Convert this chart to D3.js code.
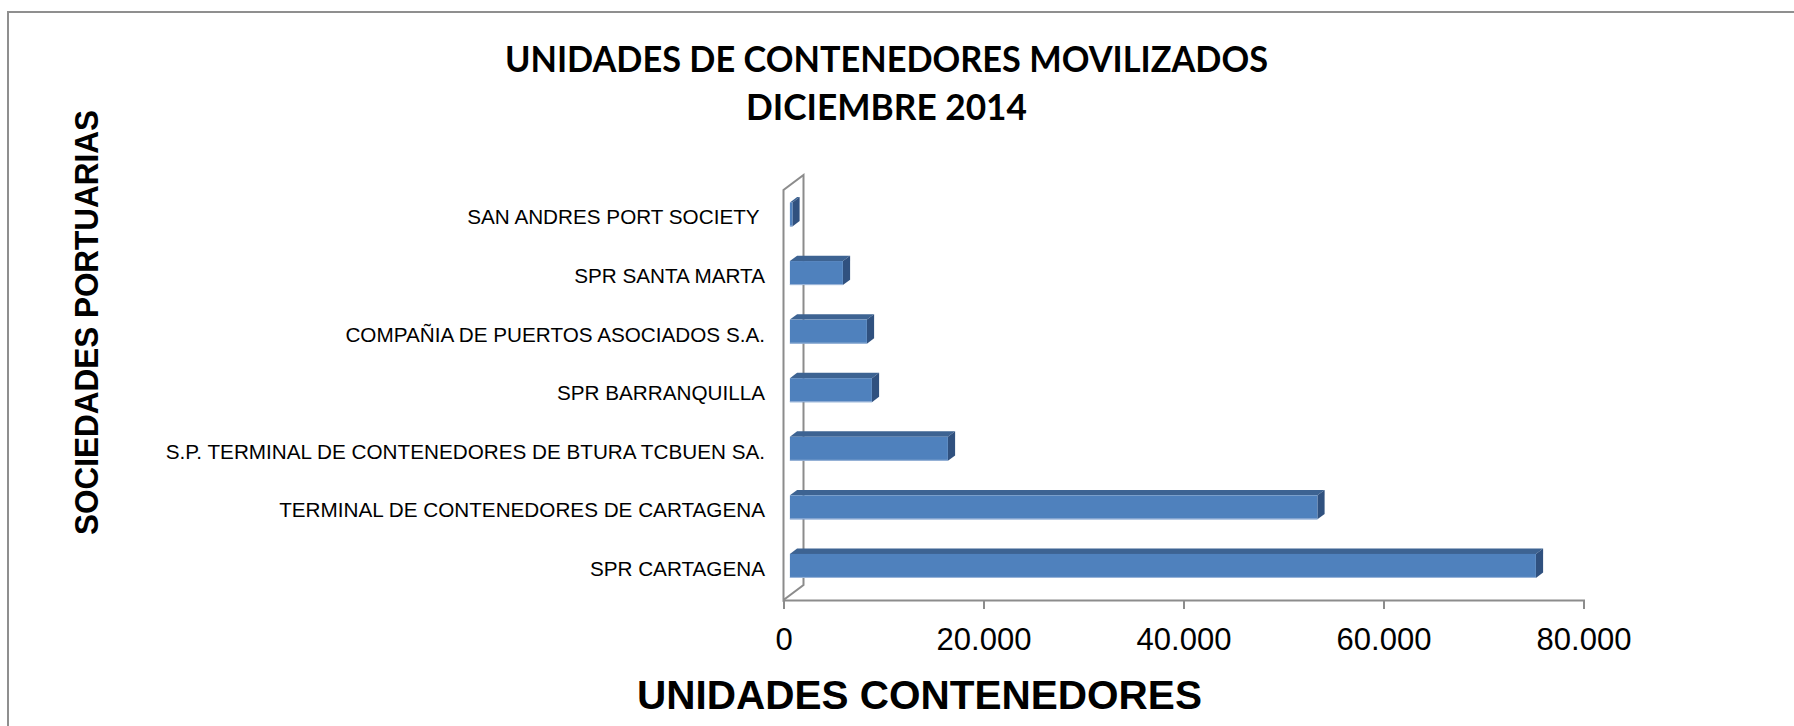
<!DOCTYPE html>
<html>
<head>
<meta charset="utf-8">
<script src="https://cdn.jsdelivr.net/npm/d3@7"></script>
<style>
  html, body { margin: 0; padding: 0; background: #fff; }
  svg { display: block; }
  text { font-family: "Liberation Sans", Arial, sans-serif; }
</style>
</head>
<body>
<script>
// ---- data ----
const categories = [
  "SPR CARTAGENA",
  "TERMINAL DE CONTENEDORES DE CARTAGENA",
  "S.P. TERMINAL DE CONTENEDORES DE BTURA TCBUEN SA.",
  "SPR BARRANQUILLA",
  "COMPAÑIA DE PUERTOS ASOCIADOS S.A.",
  "SPR SANTA MARTA",
  "SAN ANDRES PORT SOCIETY "
];
const values = [74600, 52750, 15800, 8200, 7700, 5300, 250];
const xTicks = [0, 20000, 40000, 60000, 80000];
const titleLines = ["UNIDADES DE CONTENEDORES MOVILIZADOS", "DICIEMBRE 2014"];
const xTitle = "UNIDADES CONTENEDORES";
const yTitle = "SOCIEDADES PORTUARIAS";

// ---- layout ----
const W = 1794, H = 726;
const DX = 20, DY = -15;          // depth vector of the 3D box
const dFront = 0.32, dBack = 0.68; // bar depth span

const svg = d3.select("body").append("svg").attr("width", W).attr("height", H);

// outer chart border (cut at right/bottom)
svg.append("path")
  .attr("d", "M8,726 L8,12 L1794,12")
  .attr("fill", "none").attr("stroke", "#8f8f8f").attr("stroke-width", 2);

const x = d3.scaleLinear().domain([0, 80000]).range([783.5, 1583.5]);
const y = d3.scaleBand().domain(categories).range([600, 190])
  .paddingInner(0.59).paddingOuter(0.295);

const loc = d3.formatLocale({decimal: ",", thousands: ".", grouping: [3], currency: ["$", ""]});
const fmt = loc.format(",d");

// back wall
const wx0 = x(0), wyB = 600, wyT = 190;
svg.append("path")
  .attr("d", `M${wx0},${wyB} L${wx0},${wyT} L${wx0 + DX},${wyT + DY} L${wx0 + DX},${wyB + DY} Z`)
  .attr("fill", "none").attr("stroke", "#8c8c8c").attr("stroke-width", 2);

// x axis
const xAxis = d3.axisBottom(x).tickValues(xTicks).tickSize(9).tickFormat(fmt);
const gx = svg.append("g").attr("transform", "translate(0,600)").call(xAxis);
gx.select(".domain").attr("stroke", "#8c8c8c").attr("stroke-width", 2);
gx.selectAll(".tick line").attr("stroke", "#8c8c8c").attr("stroke-width", 2);
gx.selectAll(".tick text")
  .attr("y", 50).attr("dy", 0)
  .attr("fill", "#000")
  .style("font-family", "'Liberation Sans', Arial, sans-serif")
  .style("font-size", "31px");

// bars
const fx = DX * dFront, fy = DY * dFront;
const ddx = DX * (dBack - dFront), ddy = DY * (dBack - dFront);
const bw = y.bandwidth();
const bars = svg.append("g");
categories.forEach((c, i) => {
  const v = values[i];
  const x0 = x(0) + fx, x1 = x(v) + fx;
  const yt = y(c) + fy, yb = yt + bw;
  const g = bars.append("g");
  // top face
  g.append("path")
    .attr("d", `M${x0},${yt} L${x0 + ddx},${yt + ddy} L${x1 + ddx},${yt + ddy} L${x1},${yt} Z`)
    .attr("fill", "#3d6392");
  // right face
  g.append("path")
    .attr("d", `M${x1},${yt} L${x1 + ddx},${yt + ddy} L${x1 + ddx},${yb + ddy} L${x1},${yb} Z`)
    .attr("fill", "#30517f");
  // front face
  g.append("rect")
    .attr("x", x0).attr("y", yt).attr("width", x1 - x0).attr("height", bw)
    .attr("fill", "#4f81bd");
  // light bottom edge
  g.append("line")
    .attr("x1", x0).attr("x2", x1).attr("y1", yb - 0.5).attr("y2", yb - 0.5)
    .attr("stroke", "#9fb8da").attr("stroke-width", 1);
  // category label
  svg.append("text")
    .attr("x", 765).attr("y", yt + bw / 2 + 10)
    .attr("text-anchor", "end")
    .style("font-size", "20.7px")
    .style("white-space", "pre")
    .attr("fill", "#000")
    .text(c);
});

// titles
const tFont = "Lato, 'Open Sans', sans-serif";
svg.append("text").attr("x", 886.5).attr("y", 72).attr("text-anchor", "middle")
  .style("font-family", tFont).style("font-weight", "bold").style("font-size", "37px")
  .attr("textLength", 763).attr("lengthAdjust", "spacingAndGlyphs")
  .text(titleLines[0]);
svg.append("text").attr("x", 886.5).attr("y", 120).attr("text-anchor", "middle")
  .style("font-family", tFont).style("font-weight", "bold").style("font-size", "37px")
  .attr("textLength", 281).attr("lengthAdjust", "spacingAndGlyphs")
  .text(titleLines[1]);

// x axis title
svg.append("text").attr("x", 919.5).attr("y", 709).attr("text-anchor", "middle")
  .style("font-weight", "bold").style("font-size", "40.5px")
  .text(xTitle);

// y axis title
svg.append("text")
  .attr("transform", "translate(98,322.5) rotate(-90)")
  .attr("text-anchor", "middle")
  .style("font-weight", "bold").style("font-size", "34px")
  .attr("textLength", 425).attr("lengthAdjust", "spacingAndGlyphs")
  .text(yTitle);
</script>
</body>
</html>
